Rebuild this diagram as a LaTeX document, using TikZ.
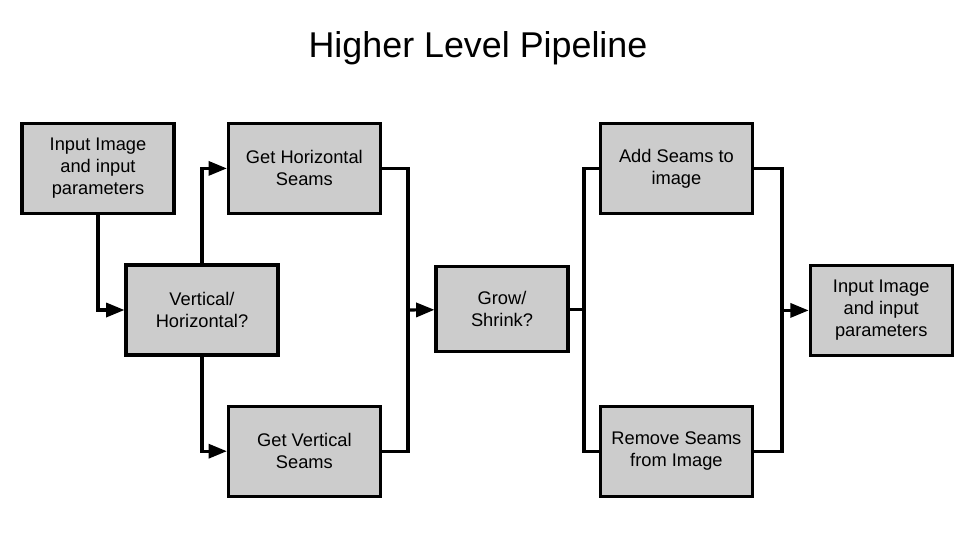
\documentclass[tikz,border=0pt]{standalone}
\usepackage{fontspec}
\setmainfont{Liberation Sans}
\usepackage{tikz}
\usetikzlibrary{positioning,arrows.meta}

\definecolor{boxgray}{HTML}{CCCCCC}

\begin{document}
\begin{tikzpicture}[
    line width=2.2pt,
    arrow/.style={-{Triangle[length=13pt,width=10pt]}},
  ]
  \useasboundingbox (0,0) rectangle (24,-13.5);

  \node[anchor=base] (title) at (11.95,-1.43) {\fontsize{25.5}{30}\selectfont Higher Level Pipeline};

  \begin{scope}[every node/.style={rectangle,draw,fill=boxgray,line width=2.2pt,align=center,
        minimum width=3.8cm,minimum height=2.25cm,font=\fontsize{13}{15.6}\selectfont}]
    % Input and split
    \node (in1) at (2.45,-4.21) {Input Image\\and input\\parameters};
    \node (vh) at (5.05,-7.75) {Vertical/\\Horizontal?};
    \node (horiz) at (7.61,-4.21) {Get Horizontal\\Seams};
    \node (vert) at (7.61,-11.28) {Get Vertical\\Seams};

    % Grow or shrink
    \node[minimum width=3.3cm,minimum height=2.12cm] (grow) at (12.55,-7.73) {Grow/\\Shrink?};
    \node (add) at (16.91,-4.21) {Add Seams to\\image};
    \node (remove) at (16.91,-11.28) {Remove Seams\\from Image};

    % Output
    \node[minimum width=3.55cm] (out) at (22.03,-7.76) {Input Image\\and input\\parameters};
  \end{scope}

  \coordinate (join1) at (10.2,-7.75);
  \coordinate (split) at (14.6,-7.73);
  \coordinate (join2) at (19.55,-7.76);

  \draw[arrow] (in1) |- (vh);
  \draw[arrow] (vh) |- (horiz);
  \draw[arrow] (vh) |- (vert);

  \draw (horiz) -| (join1);
  \draw (vert) -| (join1);
  \draw[arrow] (join1) -- (grow);

  \draw (grow) -- (split);
  \draw (split) |- (add);
  \draw (split) |- (remove);

  \draw (add) -| (join2);
  \draw (remove) -| (join2);
  \draw[arrow] (join2) -- (out);
\end{tikzpicture}
\end{document}
